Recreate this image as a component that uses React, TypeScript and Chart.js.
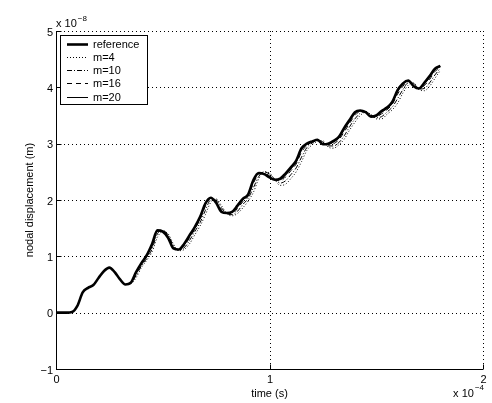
import React, { useEffect, useRef } from "react";
import { Chart, registerables } from "chart.js";

Chart.register(...registerables);

// time in units of 1e-4 s
const TIME = [
  0, 0.025, 0.05, 0.075, 0.1, 0.125, 0.15, 0.175, 0.2, 0.225,
  0.25, 0.275, 0.3, 0.325, 0.35, 0.375, 0.4, 0.425, 0.45, 0.475,
  0.5, 0.525, 0.55, 0.575, 0.6, 0.625, 0.65, 0.675, 0.7, 0.725,
  0.75, 0.775, 0.8, 0.825, 0.85, 0.875, 0.9, 0.925, 0.95, 0.975,
  1.0, 1.025, 1.05, 1.075, 1.1, 1.125, 1.15, 1.175, 1.2, 1.225,
  1.25, 1.275, 1.3, 1.325, 1.35, 1.375, 1.4, 1.425, 1.45, 1.475,
  1.5, 1.525, 1.55, 1.575, 1.6, 1.625, 1.65, 1.675, 1.7, 1.725,
  1.75, 1.775, 1.8,
];

// nodal displacement in units of 1e-8 m
const REFERENCE = [
  0, 0, 0, 0.01, 0.12, 0.36, 0.44, 0.49, 0.62, 0.74,
  0.8, 0.72, 0.59, 0.5, 0.53, 0.72, 0.88, 1.02, 1.22, 1.46,
  1.44, 1.33, 1.14, 1.12, 1.22, 1.37, 1.52, 1.7, 1.94, 2.04,
  1.95, 1.79, 1.77, 1.79, 1.9, 2.02, 2.1, 2.36, 2.48, 2.46,
  2.4, 2.36, 2.38, 2.47, 2.58, 2.7, 2.92, 3.0, 3.04, 3.07,
  2.99, 3.0, 3.05, 3.12, 3.28, 3.42, 3.56, 3.59, 3.56, 3.48,
  3.5, 3.58, 3.64, 3.74, 3.95, 4.07, 4.12, 4.02, 3.98, 4.08,
  4.2, 4.33, 4.38,
];

const M4 = [
  0, 0, 0, 0.01, 0.12, 0.36, 0.44, 0.49, 0.62, 0.74,
  0.8, 0.72, 0.59, 0.5, 0.51, 0.62, 0.8, 0.93, 1.08, 1.34,
  1.44, 1.4, 1.22, 1.1, 1.12, 1.22, 1.38, 1.54, 1.74, 1.96,
  2.02, 1.9, 1.76, 1.72, 1.76, 1.86, 1.98, 2.14, 2.38, 2.5,
  2.48, 2.36, 2.26, 2.28, 2.38, 2.5, 2.68, 2.88, 2.98, 3.04,
  3.05, 2.94, 2.92, 2.98, 3.08, 3.24, 3.38, 3.5, 3.56, 3.52,
  3.44, 3.44, 3.52, 3.6, 3.72, 3.9, 4.04, 4.08, 3.96, 3.94,
  4.02, 4.16, 4.3,
];

const M10 = [
  0, 0, 0, 0.01, 0.12, 0.36, 0.44, 0.49, 0.62, 0.74,
  0.8, 0.72, 0.59, 0.5, 0.52, 0.66, 0.83, 0.96, 1.13, 1.4,
  1.46, 1.38, 1.19, 1.11, 1.15, 1.28, 1.44, 1.6, 1.82, 2.0,
  2.0, 1.86, 1.76, 1.74, 1.8, 1.92, 2.03, 2.22, 2.42, 2.5,
  2.46, 2.37, 2.3, 2.34, 2.45, 2.57, 2.76, 2.93, 3.01, 3.06,
  3.03, 2.96, 2.96, 3.02, 3.14, 3.3, 3.44, 3.54, 3.57, 3.51,
  3.46, 3.48, 3.56, 3.65, 3.8, 3.96, 4.08, 4.07, 3.97, 3.98,
  4.08, 4.22, 4.34,
];

const M16 = [
  0, 0, 0, 0.01, 0.12, 0.36, 0.44, 0.49, 0.62, 0.74,
  0.8, 0.72, 0.59, 0.5, 0.53, 0.7, 0.86, 0.99, 1.18, 1.44,
  1.46, 1.36, 1.17, 1.12, 1.18, 1.33, 1.48, 1.66, 1.89, 2.03,
  1.98, 1.82, 1.77, 1.76, 1.85, 1.97, 2.07, 2.3, 2.46, 2.48,
  2.43, 2.36, 2.34, 2.41, 2.52, 2.64, 2.85, 2.97, 3.03, 3.07,
  3.01, 2.98, 3.0, 3.07, 3.21, 3.36, 3.5, 3.57, 3.57, 3.5,
  3.48, 3.53, 3.6, 3.7, 3.88, 4.02, 4.1, 4.05, 3.98, 4.03,
  4.14, 4.28, 4.36,
];

const M20 = [
  0, 0, 0, 0.01, 0.12, 0.36, 0.44, 0.49, 0.62, 0.74,
  0.8, 0.72, 0.59, 0.5, 0.53, 0.71, 0.87, 1.01, 1.2, 1.45,
  1.45, 1.34, 1.15, 1.12, 1.2, 1.35, 1.5, 1.68, 1.92, 2.04,
  1.96, 1.8, 1.77, 1.78, 1.88, 2.0, 2.09, 2.33, 2.47, 2.47,
  2.41, 2.36, 2.36, 2.44, 2.55, 2.67, 2.89, 2.99, 3.04, 3.07,
  3.0, 2.99, 3.03, 3.1, 3.25, 3.39, 3.53, 3.58, 3.57, 3.49,
  3.49, 3.56, 3.62, 3.72, 3.92, 4.05, 4.11, 4.03, 3.98, 4.06,
  4.17, 4.31, 4.37,
];

const SERIES_LABELS = ["reference", "m=4", "m=10", "m=16", "m=20"];
const X_TICKS = [0, 1, 2];
const Y_TICKS = [-1, 0, 1, 2, 3, 4, 5];
const X_EXPONENT = "\u22124";
const Y_EXPONENT = "\u22128";
const X_TITLE = "time (s)";
const Y_TITLE = "nodal displacement (m)";

const FONT = "'Liberation Sans', Arial, Helvetica, sans-serif";

const fmt = (v: number) => (v < 0 ? "\u2212" + Math.abs(v) : String(v));

const matlabPlugin = {
  id: "matlabAxes",
  beforeDatasetsDraw(chart: any) {
    const { ctx, chartArea } = chart;
    const xs = chart.scales.x;
    const ys = chart.scales.y;
    ctx.save();
    ctx.strokeStyle = "#000";
    ctx.lineWidth = 1;
    ctx.setLineDash([1, 3]);
    for (const t of X_TICKS) {
      const px = Math.round(xs.getPixelForValue(t)) + 0.5;
      ctx.beginPath();
      ctx.moveTo(px, chartArea.top);
      ctx.lineTo(px, chartArea.bottom);
      ctx.stroke();
    }
    for (const t of Y_TICKS) {
      const py = Math.round(ys.getPixelForValue(t)) + 0.5;
      ctx.beginPath();
      ctx.moveTo(chartArea.left, py);
      ctx.lineTo(chartArea.right, py);
      ctx.stroke();
    }
    ctx.restore();
  },
  afterDatasetsDraw(chart: any) {
    const { ctx, chartArea } = chart;
    const xs = chart.scales.x;
    const ys = chart.scales.y;
    ctx.save();
    ctx.strokeStyle = "#000";
    ctx.lineWidth = 1;
    ctx.setLineDash([]);
    const L = Math.round(chartArea.left) + 0.5;
    const B = Math.round(chartArea.bottom) + 0.5;
    ctx.beginPath();
    ctx.moveTo(L, chartArea.top);
    ctx.lineTo(L, B);
    ctx.lineTo(chartArea.right, B);
    ctx.stroke();
    for (const t of X_TICKS) {
      const px = Math.round(xs.getPixelForValue(t)) + 0.5;
      ctx.beginPath();
      ctx.moveTo(px, B);
      ctx.lineTo(px, B - 5);
      ctx.stroke();
    }
    for (const t of Y_TICKS) {
      const py = Math.round(ys.getPixelForValue(t)) + 0.5;
      ctx.beginPath();
      ctx.moveTo(L, py);
      ctx.lineTo(L + 5, py);
      ctx.stroke();
    }
    // tick labels
    ctx.fillStyle = "#000";
    ctx.font = `11px ${FONT}`;
    ctx.textBaseline = "alphabetic";
    ctx.textAlign = "center";
    for (const t of X_TICKS) {
      ctx.fillText(fmt(t), xs.getPixelForValue(t) + 0.5, B + 13);
    }
    ctx.textAlign = "right";
    for (const t of Y_TICKS) {
      ctx.fillText(fmt(t), chartArea.left - 3, ys.getPixelForValue(t) + 4.5);
    }
    ctx.restore();
  },
  afterDraw(chart: any) {
    const { ctx, chartArea } = chart;
    ctx.save();
    ctx.fillStyle = "#000";
    // axis titles
    ctx.font = `11px ${FONT}`;
    ctx.textAlign = "center";
    ctx.textBaseline = "alphabetic";
    ctx.fillText(X_TITLE, (chartArea.left + chartArea.right) / 2, 397);
    ctx.save();
    ctx.translate(33, (chartArea.top + chartArea.bottom) / 2);
    ctx.rotate(-Math.PI / 2);
    ctx.fillText(Y_TITLE, 0, 0);
    ctx.restore();

    // exponent labels
    ctx.textAlign = "left";
    ctx.textBaseline = "alphabetic";
    ctx.font = `11px ${FONT}`;
    const base = "x 10";
    ctx.fillText(base, chartArea.left, 27);
    const bw = ctx.measureText(base).width;
    ctx.font = `8px ${FONT}`;
    ctx.fillText(Y_EXPONENT, chartArea.left + bw + 1, 21);

    ctx.font = `8px ${FONT}`;
    const ew = ctx.measureText(X_EXPONENT).width;
    ctx.font = `11px ${FONT}`;
    const bw2 = ctx.measureText(base).width;
    const xr = chartArea.right + 1;
    ctx.fillText(base, xr - ew - 1 - bw2, 397);
    ctx.font = `8px ${FONT}`;
    ctx.fillText(X_EXPONENT, xr - ew, 390);

    // legend
    const lx = 60.5, ly = 35.5, lw = 87, lh = 69;
    ctx.fillStyle = "#fff";
    ctx.fillRect(lx, ly, lw, lh);
    ctx.strokeStyle = "#000";
    ctx.lineWidth = 1;
    ctx.setLineDash([]);
    ctx.strokeRect(lx, ly, lw, lh);
    ctx.font = `11px ${FONT}`;
    ctx.textBaseline = "middle";
    ctx.textAlign = "left";
    chart.data.datasets.forEach((ds: any, i: number) => {
      const y = Math.round(43.5 + i * 13.3) + 0.5;
      ctx.save();
      ctx.strokeStyle = "#000";
      ctx.lineWidth = ds.borderWidth;
      ctx.setLineDash(ds.borderDash || []);
      ctx.beginPath();
      ctx.moveTo(67, y);
      ctx.lineTo(88, y);
      ctx.stroke();
      ctx.restore();
      ctx.fillStyle = "#000";
      ctx.fillText(ds.label, 93, y);
    });
    ctx.restore();
  },
};

export default function App() {
  const ref = useRef<HTMLCanvasElement | null>(null);

  useEffect(() => {
    document.body.style.margin = "0";
    const mk = (vals: number[]) => TIME.map((t, i) => ({ x: t, y: vals[i] }));
    const styles = [
      { w: 2.6, dash: [] as number[] },
      { w: 1, dash: [1, 2] },
      { w: 1, dash: [5, 2, 1, 2] },
      { w: 1, dash: [5, 4] },
      { w: 1, dash: [] as number[] },
    ];
    const series = [REFERENCE, M4, M10, M16, M20];
    const datasets = series.map((vals, i) => ({
      label: SERIES_LABELS[i],
      data: mk(vals),
      borderColor: "#000",
      backgroundColor: "#000",
      borderWidth: styles[i].w,
      borderDash: styles[i].dash,
      pointRadius: 0,
      fill: false,
      cubicInterpolationMode: "monotone" as const,
      order: i === 0 ? 5 : i,
    }));

    const chart = new Chart(ref.current!, {
      type: "line",
      data: { datasets },
      plugins: [matlabPlugin],
      options: {
        animation: false,
        responsive: true,
        maintainAspectRatio: false,
        layout: { padding: { top: 31, right: 9, left: 0, bottom: 0 } },
        plugins: {
          legend: { display: false },
          tooltip: { enabled: false },
        },
        scales: {
          x: {
            type: "linear",
            min: 0,
            max: 2,
            afterBuildTicks: (s: any) => {
              s.ticks = X_TICKS.map((v) => ({ value: v }));
            },
            afterFit: (s: any) => {
              s.height = 34;
            },
            grid: { display: false },
            border: { display: false },
            ticks: { display: false },
          },
          y: {
            type: "linear",
            min: -1,
            max: 5,
            afterBuildTicks: (s: any) => {
              s.ticks = Y_TICKS.map((v) => ({ value: v }));
            },
            afterFit: (s: any) => {
              s.width = 56;
            },
            grid: { display: false },
            border: { display: false },
            ticks: { display: false },
          },
        },
      },
    });
    return () => chart.destroy();
  }, []);

  return (
    <div style={{ position: "absolute", left: 0, top: 0, width: 492, height: 403, background: "#fff" }}>
      <canvas ref={ref} />
    </div>
  );
}
